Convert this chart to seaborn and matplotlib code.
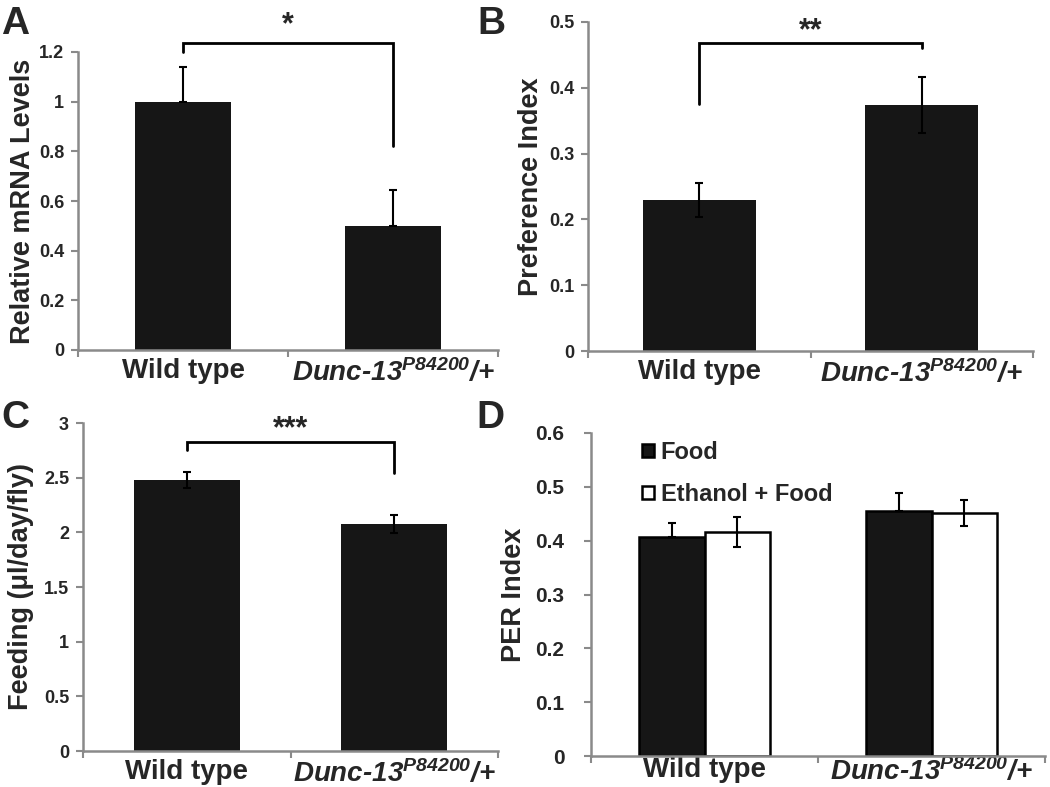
import pandas as pd
import numpy as np
import matplotlib
matplotlib.use("Agg")
import matplotlib.pyplot as plt
import seaborn as sns

# ---- datos ----
genotipos = ["Wild type", "Dunc-13"]
etiquetas_x = ["Wild type", "Dunc-13$^{P84200}$/+"]

mrna = [1.00, 0.50]
mrna_err = [0.14, 0.143]

preferencia = [0.229, 0.374]
preferencia_err = [0.026, 0.042]

feeding = [2.476, 2.077]
feeding_err = [0.072, 0.08]

tratamientos = ["Food", "Ethanol + Food"]
per_food = [0.406, 0.456]
per_food_err = [0.027, 0.033]
per_etoh = [0.416, 0.452]
per_etoh_err = [0.028, 0.024]

sns.set_style("white")
plt.rcParams['font.family'] = ['Liberation Sans', 'DejaVu Sans']
plt.rcParams['mathtext.fontset'] = 'custom'
plt.rcParams['mathtext.rm'] = 'Liberation Sans:italic:bold'
plt.rcParams['mathtext.it'] = 'Liberation Sans:italic:bold'
plt.rcParams['mathtext.bf'] = 'Liberation Sans:italic:bold'

GRIS = "#8a8a8a"
NEGRO = "#161616"
W, H = 1050, 787

fig = plt.figure(figsize=(10.5, 7.87), dpi=100)


def crear_ejes(l, r, t, b):
    return fig.add_axes([l / W, 1 - b / H, (r - l) / W, (b - t) / H])


def estilo(ax, ymax, paso, ylabel, lab_x, tick_size=13, tick_pad=5, xpad=6):
    ax.set_xlim(-0.5, 1.5)
    ax.set_ylim(0, ymax)
    ax.set_yticks(np.round(np.arange(0, ymax + paso / 2, paso), 2))
    ax.set_yticklabels([f"{v:g}" for v in ax.get_yticks()])
    for t in ax.get_yticklabels():
        t.set_fontweight('bold')
        t.set_fontsize(tick_size)
    ax.tick_params(axis='y', direction='out', length=5, width=1.5, color=GRIS, pad=tick_pad, left=True)
    # ticks del eje x en los limites de cada categoria
    ax.set_xticks([0, 1])
    ax.set_xticklabels(etiquetas_x)
    for i, t in enumerate(ax.get_xticklabels()):
        t.set_fontsize(20)
        t.set_fontweight('bold')
        if i == 1:
            t.set_fontstyle('italic')
    ax.tick_params(axis='x', length=0, pad=xpad)
    ax.set_xticks([-0.5, 0.5, 1.5], minor=True)
    ax.tick_params(axis='x', which='minor', direction='out', length=5, width=1.5, color=GRIS, bottom=True)
    for s in ['top', 'right']:
        ax.spines[s].set_visible(False)
    for s in ['left', 'bottom']:
        ax.spines[s].set_color(GRIS)
        ax.spines[s].set_linewidth(1.8)
    ax.set_xlabel("")
    ax.set_ylabel(ylabel, fontsize=19.5, fontweight='bold', va='center')
    ax.yaxis.set_label_coords(lab_x, 0.5)


def corchete(ax, y, y_izq, y_der, texto, dy=0):
    ax.plot([0, 0, 1, 1], [y_izq, y, y, y_der], color='black', lw=2, clip_on=False,
            solid_joinstyle='miter')
    ax.annotate(texto, xy=(0.5, y), xytext=(0, dy), textcoords='offset points',
                ha='center', va='bottom', fontsize=22, fontweight='bold', annotation_clip=False)


def barras_simples(ax, valores, errores, ancho, solo_arriba=False):
    df = pd.DataFrame({"genotipo": genotipos, "valor": valores})
    sns.barplot(data=df, x="genotipo", y="valor", order=genotipos, color=NEGRO,
                saturation=1, width=ancho, errorbar=None, ax=ax, linewidth=0)
    yerr = [[0] * len(errores), errores] if solo_arriba else errores
    ax.errorbar([0, 1], valores, yerr=yerr, fmt='none', ecolor='black',
                elinewidth=1.5, capsize=3, capthick=1.5)


# A
axA = crear_ejes(78, 498, 52, 350)
barras_simples(axA, mrna, mrna_err, 0.46, solo_arriba=True)
estilo(axA, 1.2, 0.2, "Relative mRNA Levels", -0.131)
corchete(axA, 1.237, 1.2, 0.82, "*", dy=2)

# B
axB = crear_ejes(588, 1033, 22, 351)
barras_simples(axB, preferencia, preferencia_err, 0.51)
estilo(axB, 0.5, 0.1, "Preference Index", -0.128)
corchete(axB, 0.468, 0.375, 0.46, "**", dy=-2)

# C
axC = crear_ejes(83, 498, 423, 751)
barras_simples(axC, feeding, feeding_err, 0.51)
estilo(axC, 3, 0.5, "Feeding (\u03bcl/day/fly)", -0.149)
corchete(axC, 2.83, 2.75, 2.54, "***", dy=-2)

# D
axD = crear_ejes(591, 1045, 433, 756)
dfD = pd.DataFrame({
    "genotipo": genotipos * 2,
    "tratamiento": [tratamientos[0]] * 2 + [tratamientos[1]] * 2,
    "valor": per_food + per_etoh,
})
sns.barplot(data=dfD, x="genotipo", y="valor", hue="tratamiento", order=genotipos,
            hue_order=tratamientos, palette=[NEGRO, "white"], saturation=1, width=0.58,
            errorbar=None, edgecolor="black", linewidth=1.8, ax=axD)
barras = [p for p in axD.patches if p.get_height() > 0][:4]
xs = [p.get_x() + p.get_width() / 2 for p in barras]
# comida: solo barra superior (la inferior queda oculta en la barra negra)
axD.errorbar(xs[:2], per_food, yerr=[[0, 0], per_food_err], fmt='none', ecolor='black',
             elinewidth=1.5, capsize=3, capthick=1.5)
axD.errorbar(xs[2:], per_etoh, yerr=per_etoh_err, fmt='none', ecolor='black',
             elinewidth=1.5, capsize=3, capthick=1.5)
estilo(axD, 0.6, 0.1, "PER Index", -0.17, tick_size=15, tick_pad=14, xpad=1)
handles, labels = axD.get_legend_handles_labels()
axD.legend(handles, labels, loc='upper left', bbox_to_anchor=(0.112, 0.975), frameon=False,
           prop={'size': 17, 'weight': 'bold'}, handlelength=0.5, handleheight=0.5,
           handletextpad=0.3, labelspacing=0.8, borderaxespad=0, borderpad=0)

# letras de panel
for letra, x, y in [("A", 1, 34), ("B", 477, 34), ("C", 1, 428), ("D", 476, 428)]:
    fig.text(x / W, 1 - y / H, letra, fontsize=28, fontweight='bold', ha='left', va='baseline')

fig.savefig("out.png", dpi=100)
